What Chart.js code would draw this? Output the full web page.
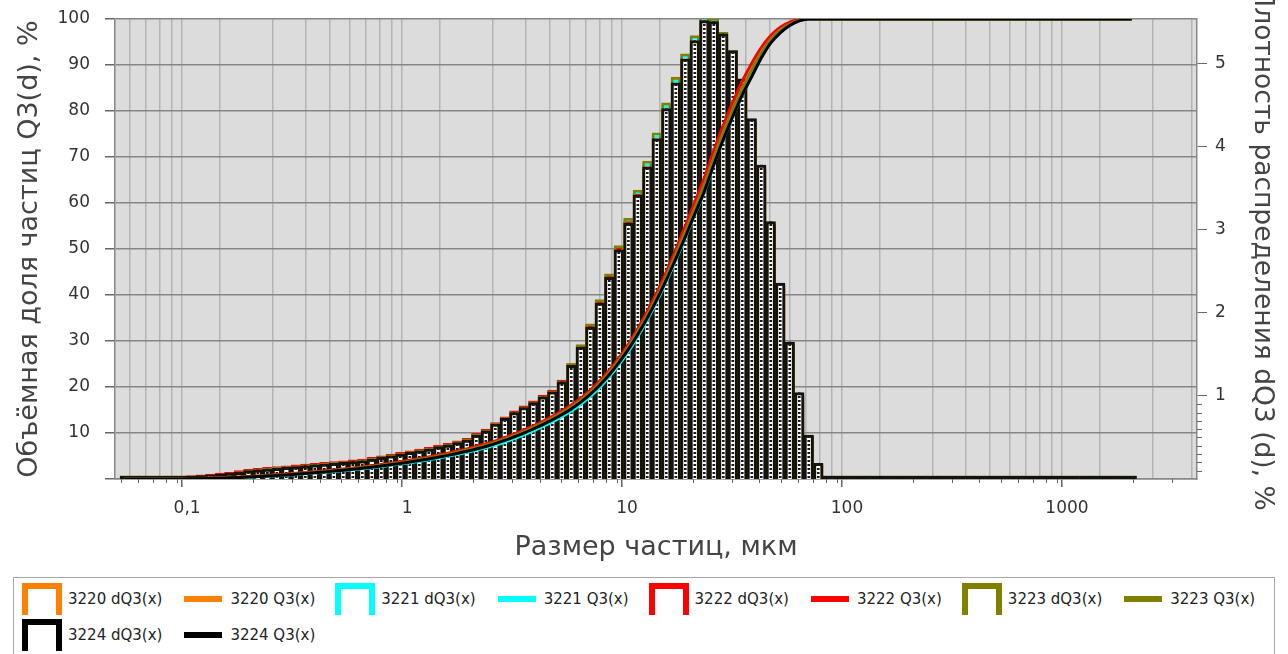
<!DOCTYPE html>
<html><head><meta charset="utf-8">
<script src="https://cdn.jsdelivr.net/npm/chart.js@4/dist/chart.umd.min.js"></script>
<style>
html,body{margin:0;padding:0;background:#fff;width:1288px;height:654px;overflow:hidden;font-family:'DejaVu Sans',sans-serif;}
#wrap{position:absolute;left:0;top:0;width:1288px;height:576px;}
#legend{position:absolute;left:13px;top:577px;width:1262px;height:90px;border:1px solid #a8a8a8;box-sizing:border-box;padding:5px 0 0 8px;background:#fff;}
.row{display:flex;align-items:center;height:32px;margin-bottom:4px;white-space:nowrap;}
.item{display:flex;align-items:center;}
.br{width:40px;height:32px;box-sizing:border-box;border:6px solid;border-bottom:none;}
.ln{width:38px;height:6px;}
.txt{font-size:15px;color:#222;}
</style></head>
<body>
<div id="wrap"><canvas id="c" width="1288" height="576"></canvas></div>
<div id="legend"></div>
<script>
// ---- data ----
const seriesNames = ['3220','3221','3222','3223','3224'];
const seriesColors = ['#ff8000','#00ffff','#ff0000','#808000','#000000'];

// particle size (bin centres), µm
const sizes = [0.05212,0.05756,0.06360,0.07023,0.07757,
0.08569,0.09465,0.1045,0.1155,0.1275,0.1409,0.1556,0.1719,
0.1899,0.2097,0.2316,0.2558,0.2825,0.3121,0.3447,0.3807,0.4206,0.4646,0.5130,
0.5667,0.6260,0.6914,0.7636,0.8436,0.9318,1.029,1.137,1.255,1.387,1.532,1.692,1.869,
2.064,2.280,2.519,2.782,3.073,3.394,3.749,4.140,4.573,
5.051,5.579,6.163,6.806,7.518,8.303,9.171,10.14,11.19,
12.36,13.65,15.08,16.66,18.40,20.32,22.45,24.80,27.38,30.25,33.41,36.90,
40.76,45.02,49.72,54.92,60.66,67.00,74.01,
81.73,90.31,99.79,110.2,121.7,134.5,148.5,164.0,181.1,200.1,220.9,244.0,269.6,297.8,328.8,363.2,401.2,443.1,489.5,540.7,597.2,659.5,728.5,804.7,888.9,982.2,1084,1198,1323,1461,1614,1782,1969];

// density dQ3, % (right axis)
const dQ3_3220 = [0,0,0,0,0,
0.01,0.02,0.03,0.04,0.05,0.06,0.08,0.09,
0.11,0.12,0.13,0.14,0.15,0.16,0.17,0.18,0.19,0.20,0.21,
0.22,0.23,0.25,0.27,0.29,0.31,0.33,0.35,0.37,0.40,0.42,0.45,0.48,
0.54,0.59,0.67,0.74,0.80,0.86,0.92,0.98,1.04,
1.16,1.36,1.58,1.82,2.11,2.42,2.76,3.09,3.44,
3.80,4.14,4.50,4.82,5.11,5.33,5.55,5.52,5.34,5.12,4.78,4.30,
3.74,3.06,2.33,1.63,1.03,0.52,0.19,
0,0,0,0,0,0,0,0,0,0,0,0,0,0,0,0,0,0,0,0,0,0,0,0,0,0,0,0,0,0,0,0,0];
const dQ3_3221 = [0,0,0,0,0,
0.01,0.02,0.03,0.04,0.05,0.06,0.07,0.08,
0.10,0.11,0.12,0.13,0.14,0.15,0.16,0.17,0.18,0.19,0.20,
0.21,0.22,0.24,0.26,0.28,0.30,0.32,0.34,0.36,0.38,0.40,0.43,0.46,
0.51,0.56,0.64,0.71,0.78,0.85,0.91,0.98,1.04,
1.16,1.36,1.58,1.83,2.13,2.45,2.79,3.12,3.46,
3.80,4.14,4.50,4.80,5.10,5.32,5.56,5.54,5.38,5.14,4.76,4.26,
3.70,3.02,2.30,1.61,1.01,0.51,0.18,
0,0,0,0,0,0,0,0,0,0,0,0,0,0,0,0,0,0,0,0,0,0,0,0,0,0,0,0,0,0,0,0,0];
const dQ3_3222 = [0,0,0,0,0,
0.02,0.03,0.04,0.05,0.06,0.07,0.08,0.10,
0.12,0.13,0.14,0.15,0.16,0.17,0.18,0.19,0.20,0.21,0.22,
0.23,0.24,0.26,0.28,0.30,0.32,0.34,0.36,0.38,0.41,0.43,0.46,0.49,
0.55,0.60,0.68,0.75,0.82,0.88,0.94,1.01,1.07,
1.19,1.39,1.61,1.85,2.14,2.45,2.78,3.10,3.43,
3.76,4.09,4.44,4.74,5.02,5.23,5.46,5.45,5.30,5.10,4.76,4.28,
3.72,3.04,2.30,1.60,1.00,0.50,0.17,
0,0,0,0,0,0,0,0,0,0,0,0,0,0,0,0,0,0,0,0,0,0,0,0,0,0,0,0,0,0,0,0,0];
const dQ3_3223 = [0,0,0,0,0,
0.01,0.02,0.03,0.04,0.05,0.06,0.07,0.09,
0.11,0.12,0.13,0.14,0.15,0.16,0.17,0.18,0.19,0.20,0.21,
0.22,0.23,0.25,0.27,0.29,0.31,0.33,0.35,0.37,0.40,0.42,0.45,0.48,
0.54,0.59,0.67,0.74,0.81,0.87,0.93,1.00,1.06,
1.18,1.39,1.62,1.87,2.16,2.47,2.81,3.14,3.48,
3.83,4.17,4.53,4.84,5.12,5.34,5.57,5.55,5.38,5.16,4.80,4.31,
3.75,3.07,2.33,1.62,1.02,0.52,0.18,
0,0,0,0,0,0,0,0,0,0,0,0,0,0,0,0,0,0,0,0,0,0,0,0,0,0,0,0,0,0,0,0,0];
const dQ3_3224 = [0,0,0,0,0,
0.01,0.02,0.03,0.04,0.05,0.06,0.07,0.08,
0.10,0.11,0.12,0.13,0.14,0.15,0.16,0.17,0.18,0.19,0.20,
0.21,0.22,0.24,0.26,0.28,0.30,0.32,0.34,0.36,0.39,0.41,0.44,0.47,
0.53,0.58,0.66,0.73,0.80,0.86,0.92,0.99,1.05,
1.17,1.37,1.59,1.83,2.12,2.43,2.76,3.08,3.42,
3.76,4.10,4.46,4.77,5.06,5.28,5.52,5.51,5.36,5.16,4.82,4.34,
3.78,3.10,2.36,1.65,1.04,0.53,0.19,
0,0,0,0,0,0,0,0,0,0,0,0,0,0,0,0,0,0,0,0,0,0,0,0,0,0,0,0,0,0,0,0,0];

// cumulative Q3, % (left axis)
const Q3_3220 = [0,0,0,0,0,
0.01,0.03,0.06,0.09,0.14,0.20,0.27,0.35,
0.45,0.56,0.68,0.81,0.95,1.10,1.26,1.43,1.61,1.80,2.00,
2.21,2.43,2.66,2.91,3.19,3.49,3.81,4.15,4.51,4.90,5.31,5.75,6.22,
6.73,7.29,7.92,8.62,9.38,10.20,11.09,12.04,13.05,
14.15,15.40,16.87,18.57,20.53,22.80,25.38,28.30,31.56,
35.2,39.1,43.4,48.0,52.8,57.8,62.8,68.6,74.1,79.1,83.8,87.8,
91.8,95.0,97.2,98.7,99.6,100,100,
100,100,100,100,100,100,100,100,100,100,100,100,100,100,100,100,100,100,100,100,100,100,100,100,100,100,100,100,100,100,100,100,100];
const Q3_3221 = [0,0,0,0,0,
0.01,0.02,0.04,0.07,0.11,0.16,0.22,0.29,
0.38,0.48,0.59,0.71,0.84,0.98,1.13,1.29,1.46,1.64,1.83,
2.03,2.24,2.46,2.70,2.96,3.24,3.54,3.86,4.20,4.56,4.94,5.35,5.79,
6.27,6.79,7.38,8.05,8.79,9.60,10.47,11.41,12.42,
13.52,14.78,16.25,17.95,19.92,22.20,24.80,27.73,31.00,
34.6,38.6,42.9,47.6,52.4,57.5,62.4,68.3,73.8,78.8,83.5,87.6,
91.6,94.9,97.1,98.7,99.6,100,100,
100,100,100,100,100,100,100,100,100,100,100,100,100,100,100,100,100,100,100,100,100,100,100,100,100,100,100,100,100,100,100,100,100];
const Q3_3222 = [0,0,0,0,0,
0.02,0.05,0.09,0.13,0.19,0.25,0.33,0.42,
0.53,0.65,0.78,0.92,1.07,1.23,1.40,1.58,1.77,1.97,2.18,
2.40,2.63,2.88,3.15,3.44,3.75,4.08,4.43,4.80,5.20,5.62,6.07,6.55,
7.07,7.65,8.29,9.01,9.80,10.65,11.57,12.56,13.62,
14.77,16.07,17.58,19.32,21.33,23.65,26.30,29.30,32.65,
36.4,40.5,45.0,49.9,55.0,60.2,65.5,71.4,76.9,81.9,86.5,90.4,
93.8,96.4,98.2,99.3,99.9,100,100,
100,100,100,100,100,100,100,100,100,100,100,100,100,100,100,100,100,100,100,100,100,100,100,100,100,100,100,100,100,100,100,100,100];
const Q3_3223 = [0,0,0,0,0,
0.01,0.03,0.07,0.10,0.16,0.21,0.29,0.37,
0.47,0.58,0.70,0.84,0.98,1.13,1.29,1.47,1.65,1.84,2.04,
2.26,2.48,2.72,2.98,3.26,3.56,3.88,4.22,4.58,4.97,5.38,5.82,6.29,
6.80,7.36,7.99,8.70,9.48,10.32,11.22,12.20,13.24,
14.37,15.65,17.15,18.87,20.86,23.16,25.78,28.74,32.04,
35.7,39.7,44.1,48.9,53.8,58.9,64.0,69.9,75.4,80.4,85.0,89.0,
92.7,95.6,97.6,98.9,99.7,100,100,
100,100,100,100,100,100,100,100,100,100,100,100,100,100,100,100,100,100,100,100,100,100,100,100,100,100,100,100,100,100,100,100,100];
const Q3_3224 = [0,0,0,0,0,
0.01,0.02,0.05,0.08,0.13,0.18,0.25,0.32,
0.41,0.52,0.63,0.76,0.89,1.04,1.19,1.36,1.53,1.72,1.91,
2.12,2.33,2.56,2.81,3.08,3.37,3.68,4.01,4.36,4.74,5.14,5.56,6.02,
6.52,7.07,7.69,8.39,9.15,9.98,10.87,11.83,12.85,
13.96,15.23,16.71,18.42,20.39,22.67,25.26,28.18,31.43,
35.02,38.95,43.23,47.85,52.6,57.6,62.5,68.3,73.8,78.8,83.5,87.5,
91.5,94.8,97.0,98.6,99.6,100,100,
100,100,100,100,100,100,100,100,100,100,100,100,100,100,100,100,100,100,100,100,100,100,100,100,100,100,100,100,100,100,100,100,100];

const histSeries = [dQ3_3220, dQ3_3221, dQ3_3222, dQ3_3223, dQ3_3224];
const cumSeries = [Q3_3220, Q3_3221, Q3_3222, Q3_3223, Q3_3224];

// tick labels
const xMajorTicks = [0.1, 1, 10, 100, 1000];
const xTickLabels = ['0,1', '1', '10', '100', '1000'];
const yLeftLabels = [10, 20, 30, 40, 50, 60, 70, 80, 90, 100];
const yRightLabels = [1, 2, 3, 4, 5];

// ---- build ----
const xGridValues = [];
[0.01, 0.1, 1, 10, 100, 1000].forEach(d => {
  for (let m = 1; m <= 9; m++) {
    const v = m === 1 ? d : parseFloat((m * d).toPrecision(6));
    if (v >= 0.05 && v <= 3000) xGridValues.push(v);
  }
});
const yLeftGrid = [];
for (let v = 0; v <= 100; v += 5) yLeftGrid.push(v);
const yRightGrid = [];
for (let i = 1; i <= 9; i++) yRightGrid.push(i / 10);
yRightLabels.forEach(v => yRightGrid.push(v));

const pc = document.createElement('canvas');
pc.width = 4; pc.height = 4;
const pctx = pc.getContext('2d');
pctx.fillStyle = '#1a1a1a';
pctx.fillRect(0, 0, 4, 2);
const dotPattern = pctx.createPattern(pc, 'repeat');

const tv = ctx => (ctx && ctx.tick) ? ctx.tick.value : NaN;

const datasets = [];
for (let i = 0; i < 5; i++) {
  datasets.push({
    type: 'line', label: seriesNames[i] + ' Q3(x)', data: cumSeries[i], yAxisID: 'y',
    borderColor: seriesColors[i], borderWidth: 3, pointRadius: 0,
    cubicInterpolationMode: 'monotone', fill: false, order: 5 - i
  });
}
for (let i = 0; i < 5; i++) {
  datasets.push({
    type: 'bar', label: seriesNames[i] + ' dQ3(x)', data: histSeries[i], yAxisID: 'y1',
    backgroundColor: i === 4 ? (ctx => (ctx.raw === 0 ? '#111' : '#ffffff')) : 'rgba(0,0,0,0)',
    borderColor: i === 4 ? '#15120c' : seriesColors[i], borderWidth: i === 4 ? 3 : 2, barThickness: 9.5,
    grouped: false, minBarLength: 3, order: 14 - i
  });
}
datasets.push({
  type: 'bar', label: 'dots', data: dQ3_3224, yAxisID: 'y1',
  backgroundColor: dotPattern, borderWidth: 0, barThickness: 2,
  grouped: false, order: 9
});

const plotBg = {
  id: 'plotBg',
  beforeDraw(chart) {
    const {ctx, chartArea: a} = chart;
    ctx.save();
    ctx.fillStyle = '#dcdcdc';
    ctx.fillRect(a.left, a.top, a.right - a.left, a.bottom - a.top);
    ctx.restore();
  }
};
const minorTicks = {
  id: 'minorTicks',
  afterDraw(chart) {
    const ctx = chart.ctx; const {x, y, y1} = chart.scales;
    ctx.save(); ctx.strokeStyle = '#666'; ctx.lineWidth = 1; ctx.beginPath();
    x.ticks.forEach(t => {
      if (xMajorTicks.indexOf(t.value) < 0) {
        const px = Math.round(x.getPixelForValue(t.value)) + 0.5;
        ctx.moveTo(px, x.top); ctx.lineTo(px, x.top + 4);
      }
    });
    y.ticks.forEach(t => {
      if (t.value % 10 !== 0) {
        const py = Math.round(y.getPixelForValue(t.value)) + 0.5;
        ctx.moveTo(y.right - 5, py); ctx.lineTo(y.right, py);
      }
    });
    y1.ticks.forEach(t => {
      if (t.value < 1) {
        const py = Math.round(y1.getPixelForValue(t.value)) + 0.5;
        ctx.moveTo(y1.left, py); ctx.lineTo(y1.left + 5, py);
      }
    });
    ctx.stroke(); ctx.restore();
  }
};

Chart.defaults.font.family = "'DejaVu Sans', sans-serif";

new Chart(document.getElementById('c'), {
  type: 'bar',
  data: { labels: sizes, datasets },
  plugins: [plotBg, minorTicks],
  options: {
    responsive: false, animation: false, devicePixelRatio: 1, events: [],
    layout: { padding: { top: 19, left: 0, right: 0, bottom: 0 } },
    plugins: { legend: { display: false }, tooltip: { enabled: false } },
    scales: {
      x: {
        type: 'logarithmic', min: 0.047, max: 3900, offset: false,
        afterBuildTicks(s) { s.ticks = xGridValues.map(v => ({ value: v })); },
        afterFit(s) { s.height = 97; s.paddingLeft = 0; s.paddingRight = 0; },
        ticks: {
          autoSkip: false, maxRotation: 0, minRotation: 0, padding: 11,
          color: '#333', font: { size: 17 },
          callback(v) { const i = xMajorTicks.indexOf(v); return i >= 0 ? xTickLabels[i] : ''; }
        },
        grid: {
          color: '#b4b4b4', lineWidth: 1.5, tickLength: 8,
          tickColor: ctx => xMajorTicks.indexOf(tv(ctx)) >= 0 ? '#666' : 'rgba(0,0,0,0)'
        },
        border: { color: '#888', width: 1.5 },
        title: { display: true, text: 'Размер частиц, мкм', color: '#444', font: { size: 27 }, padding: { top: 0, bottom: 12 } }
      },
      y: {
        position: 'left', min: 0, max: 100,
        afterBuildTicks(s) { s.ticks = yLeftGrid.map(v => ({ value: v })); },
        afterFit(s) { s.width = 115; s.paddingTop = 0; s.paddingBottom = 0; },
        ticks: {
          padding: 15, color: '#333', font: { size: 17 },
          callback(v) { return yLeftLabels.indexOf(v) >= 0 ? String(v) : ''; }
        },
        grid: {
          lineWidth: 1.5, tickLength: 10,
          color: ctx => tv(ctx) % 10 === 0 ? '#868686' : 'rgba(0,0,0,0)',
          tickColor: ctx => tv(ctx) % 10 === 0 ? '#666' : 'rgba(0,0,0,0)'
        },
        border: { color: '#888', width: 1.5 },
        title: { display: true, text: 'Объёмная доля частиц Q3(d), %', color: '#444', font: { size: 27 }, padding: { top: 14 } }
      },
      y1: {
        position: 'right', min: 0, max: 5.54,
        afterBuildTicks(s) { s.ticks = yRightGrid.map(v => ({ value: v })); },
        afterFit(s) { s.width = 91; s.paddingTop = 0; s.paddingBottom = 0; },
        ticks: {
          padding: 8, color: '#333', font: { size: 17 },
          callback(v) { return yRightLabels.indexOf(v) >= 0 ? String(v) : ''; }
        },
        grid: {
          drawOnChartArea: false, tickLength: 10, lineWidth: 1,
          tickColor: ctx => tv(ctx) >= 1 ? '#666' : 'rgba(0,0,0,0)'
        },
        border: { color: '#888', width: 1.5 },
        title: { display: true, text: 'Плотность распределения dQ3 (d), %', color: '#444', font: { size: 26.5 }, padding: { top: 10 } }
      }
    }
  }
});

// ---- legend (HTML) ----
const legend = document.getElementById('legend');
const rows = [[0, 1, 2, 3], [4]];
rows.forEach(r => {
  const row = document.createElement('div'); row.className = 'row';
  r.forEach(i => {
    const a = document.createElement('div'); a.className = 'item';
    a.innerHTML = '<div class="br" style="border-color:' + seriesColors[i] + '"></div>' +
      '<span class="txt" style="margin:0 22px 0 6px">' + seriesNames[i] + ' dQ3(x)</span>';
    const b = document.createElement('div'); b.className = 'item';
    b.innerHTML = '<div class="ln" style="background:' + seriesColors[i] + '"></div>' +
      '<span class="txt" style="margin:0 20px 0 8px">' + seriesNames[i] + ' Q3(x)</span>';
    row.appendChild(a); row.appendChild(b);
  });
  legend.appendChild(row);
});
</script>
</body></html>
